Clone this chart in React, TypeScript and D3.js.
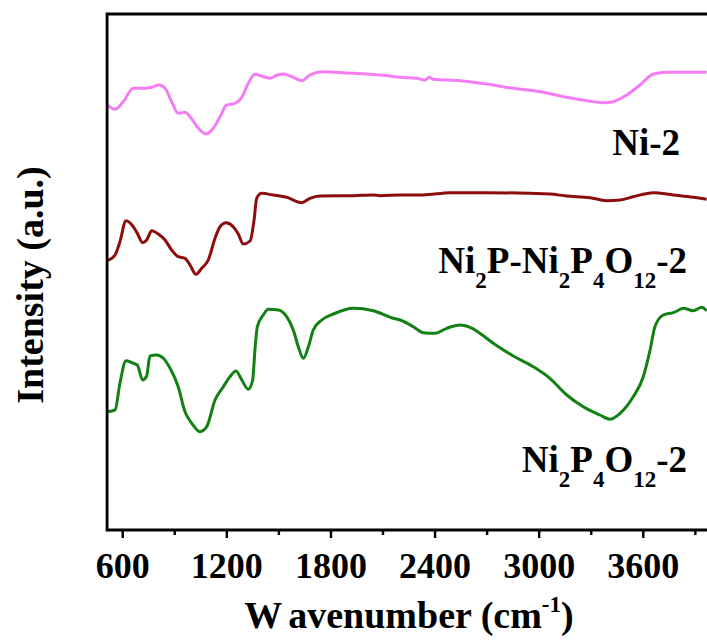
import React from "react";
import * as d3 from "d3";

const W = 707;
const H = 641;

// wavenumber (cm-1) and intensity (a.u.)
const ni2Wave = [511, 556, 603, 661, 719, 767, 811, 844, 882, 920, 959, 988, 1036, 1080, 1122, 1161, 1199, 1247, 1286, 1324, 1362, 1410, 1449, 1487, 1530, 1574, 1632, 1679, 1756, 1814, 1929, 2006, 2102, 2198, 2294, 2342, 2367, 2390, 2544, 2698, 2851, 3008, 3159, 3274, 3370, 3427, 3504, 3581, 3658, 3735, 3965];
const ni2Int = [425, 420.7, 428.3, 441.7, 441.7, 442.7, 445, 441.7, 428.3, 416.7, 417.7, 413.3, 401.7, 396, 401.7, 413.3, 425, 426.7, 432.7, 446.7, 455.7, 453.3, 451.7, 454.7, 456, 453.3, 449.3, 455, 458.3, 457.7, 456.7, 456, 454.7, 452.7, 451.7, 450, 452.7, 450.7, 449.3, 446, 441.7, 438.3, 432.7, 429.3, 427.3, 428.3, 435, 445, 456, 457.7, 457.7];

const mixWave = [511, 556, 584, 619, 661, 684, 715, 738, 767, 805, 844, 882, 920, 959, 988, 1022, 1055, 1093, 1132, 1161, 1195, 1237, 1266, 1295, 1334, 1357, 1372, 1401, 1468, 1545, 1632, 1679, 1737, 1929, 2044, 2083, 2198, 2332, 2486, 2698, 3062, 3159, 3293, 3389, 3467, 3542, 3658, 3773, 3888, 3965];
const mixInt = [269.3, 275, 288.3, 309.3, 303.3, 296.7, 287.3, 290, 299.3, 296, 290, 280, 273.3, 271.7, 265, 255.7, 261.7, 270, 291.7, 303.3, 307.3, 303.3, 296, 286, 289, 310, 331.7, 336.7, 335, 332.7, 327.3, 331.7, 334, 334.3, 335, 334.3, 335, 335, 337.3, 337.3, 336, 334, 332.3, 329.3, 330, 333.3, 337.3, 335, 332.7, 330.7];

const p4o12Wave = [511, 556, 584, 619, 652, 684, 715, 738, 757, 796, 834, 873, 920, 959, 998, 1045, 1084, 1132, 1180, 1218, 1253, 1286, 1324, 1349, 1362, 1376, 1410, 1439, 1497, 1545, 1583, 1612, 1641, 1670, 1698, 1747, 1814, 1929, 2044, 2159, 2198, 2275, 2332, 2400, 2467, 2544, 2601, 2736, 2851, 2966, 3062, 3159, 3254, 3350, 3408, 3466, 3542, 3600, 3639, 3667, 3715, 3773, 3831, 3888, 3937, 3965];
const p4o12Int = [118.3, 120, 146.7, 169.3, 167.3, 165, 150, 154, 174, 175, 171.7, 161.7, 143.3, 118.3, 106.7, 98.3, 103.3, 130, 143.3, 153.3, 159, 150, 140.7, 150, 180, 203.3, 215, 220.7, 220, 213.3, 200, 183.3, 171.7, 183.3, 200, 210, 216, 221.7, 219.3, 211.7, 210, 203.3, 197.3, 196.7, 201.7, 205, 202.7, 186.7, 174, 163.3, 151.7, 135, 123.3, 115, 110.7, 116.7, 133.3, 153.3, 180, 203.3, 215, 217.3, 221.7, 219.3, 222.7, 219.3];

const majorTicks = [600, 1200, 1800, 2400, 3000, 3600];
const minorTicks = [900, 1500, 2100, 2700, 3300, 3900];

const FONT = "'Liberation Serif', 'Times New Roman', serif";

export default function App() {
  const x = d3.scaleLinear().domain([600, 3600]).range([122.7, 643.3]);
  const y = d3.scaleLinear().domain([0, 516]).range([530, 14]);
  const plotLeft = x(510);
  const plotRight = 730;
  const plotTop = y(516);
  const plotBottom = y(0);

  const line = d3
    .line<[number, number]>()
    .x((d) => x(d[0]))
    .y((d) => y(d[1]))
    .curve(d3.curveMonotoneX);

  const series = [
    { w: ni2Wave, v: ni2Int, color: "#F47DF3" },
    { w: mixWave, v: mixInt, color: "#8B0D0D" },
    { w: p4o12Wave, v: p4o12Int, color: "#128012" },
  ];

  return (
    <svg
      width={W}
      height={H}
      style={{ position: "absolute", left: 0, top: 0, background: "#fff" }}
      fontFamily={FONT}
      fontWeight="bold"
    >
      <defs>
        <clipPath id="plot">
          <rect x={plotLeft} y={plotTop} width={plotRight - plotLeft} height={plotBottom - plotTop} />
        </clipPath>
      </defs>
      <g clipPath="url(#plot)">
        {series.map((s, i) => (
          <path
            key={i}
            d={line(s.w.map((w, j) => [w, s.v[j]] as [number, number])) || ""}
            fill="none"
            stroke={s.color}
            strokeWidth={3}
            strokeLinejoin="round"
          />
        ))}
      </g>
      {/* frame */}
      <path
        d={`M${plotRight},${plotTop}H${plotLeft}V${plotBottom}H${plotRight}`}
        fill="none"
        stroke="#000"
        strokeWidth={2.8}
      />
      {majorTicks.map((t) => (
        <g key={t}>
          <line x1={x(t)} x2={x(t)} y1={plotBottom} y2={plotBottom + 8} stroke="#000" strokeWidth={2.4} />
          <text x={x(t)} y={578} textAnchor="middle" fontSize={36}>
            {t}
          </text>
        </g>
      ))}
      {minorTicks.map((t) => (
        <line key={t} x1={x(t)} x2={x(t)} y1={plotBottom} y2={plotBottom + 5} stroke="#000" strokeWidth={2.4} />
      ))}
      <text x={409} y={628} textAnchor="middle" fontSize={38}>
        W<tspan dx={8}>avenumber (cm</tspan>
        <tspan fontSize={23} dy={-16}>-1</tspan>
        <tspan dy={16}>)</tspan>
      </text>
      <text transform="translate(43,285) rotate(-90)" textAnchor="middle" fontSize={38}>
        Intensity (a.u.)
      </text>
      <text x={680} y={155} textAnchor="end" fontSize={37}>
        Ni-2
      </text>
      <text x={687} y={273} textAnchor="end" fontSize={37}>
        Ni<tspan fontSize={23} dy={15}>2</tspan>
        <tspan dy={-15}>P-Ni</tspan>
        <tspan fontSize={23} dy={15}>2</tspan>
        <tspan dy={-15}>P</tspan>
        <tspan fontSize={23} dy={15}>4</tspan>
        <tspan dy={-15}>O</tspan>
        <tspan fontSize={23} dy={15}>12</tspan>
        <tspan dy={-15}>-2</tspan>
      </text>
      <text x={687} y={472} textAnchor="end" fontSize={37}>
        Ni<tspan fontSize={23} dy={15}>2</tspan>
        <tspan dy={-15}>P</tspan>
        <tspan fontSize={23} dy={15}>4</tspan>
        <tspan dy={-15}>O</tspan>
        <tspan fontSize={23} dy={15}>12</tspan>
        <tspan dy={-15}>-2</tspan>
      </text>
    </svg>
  );
}
